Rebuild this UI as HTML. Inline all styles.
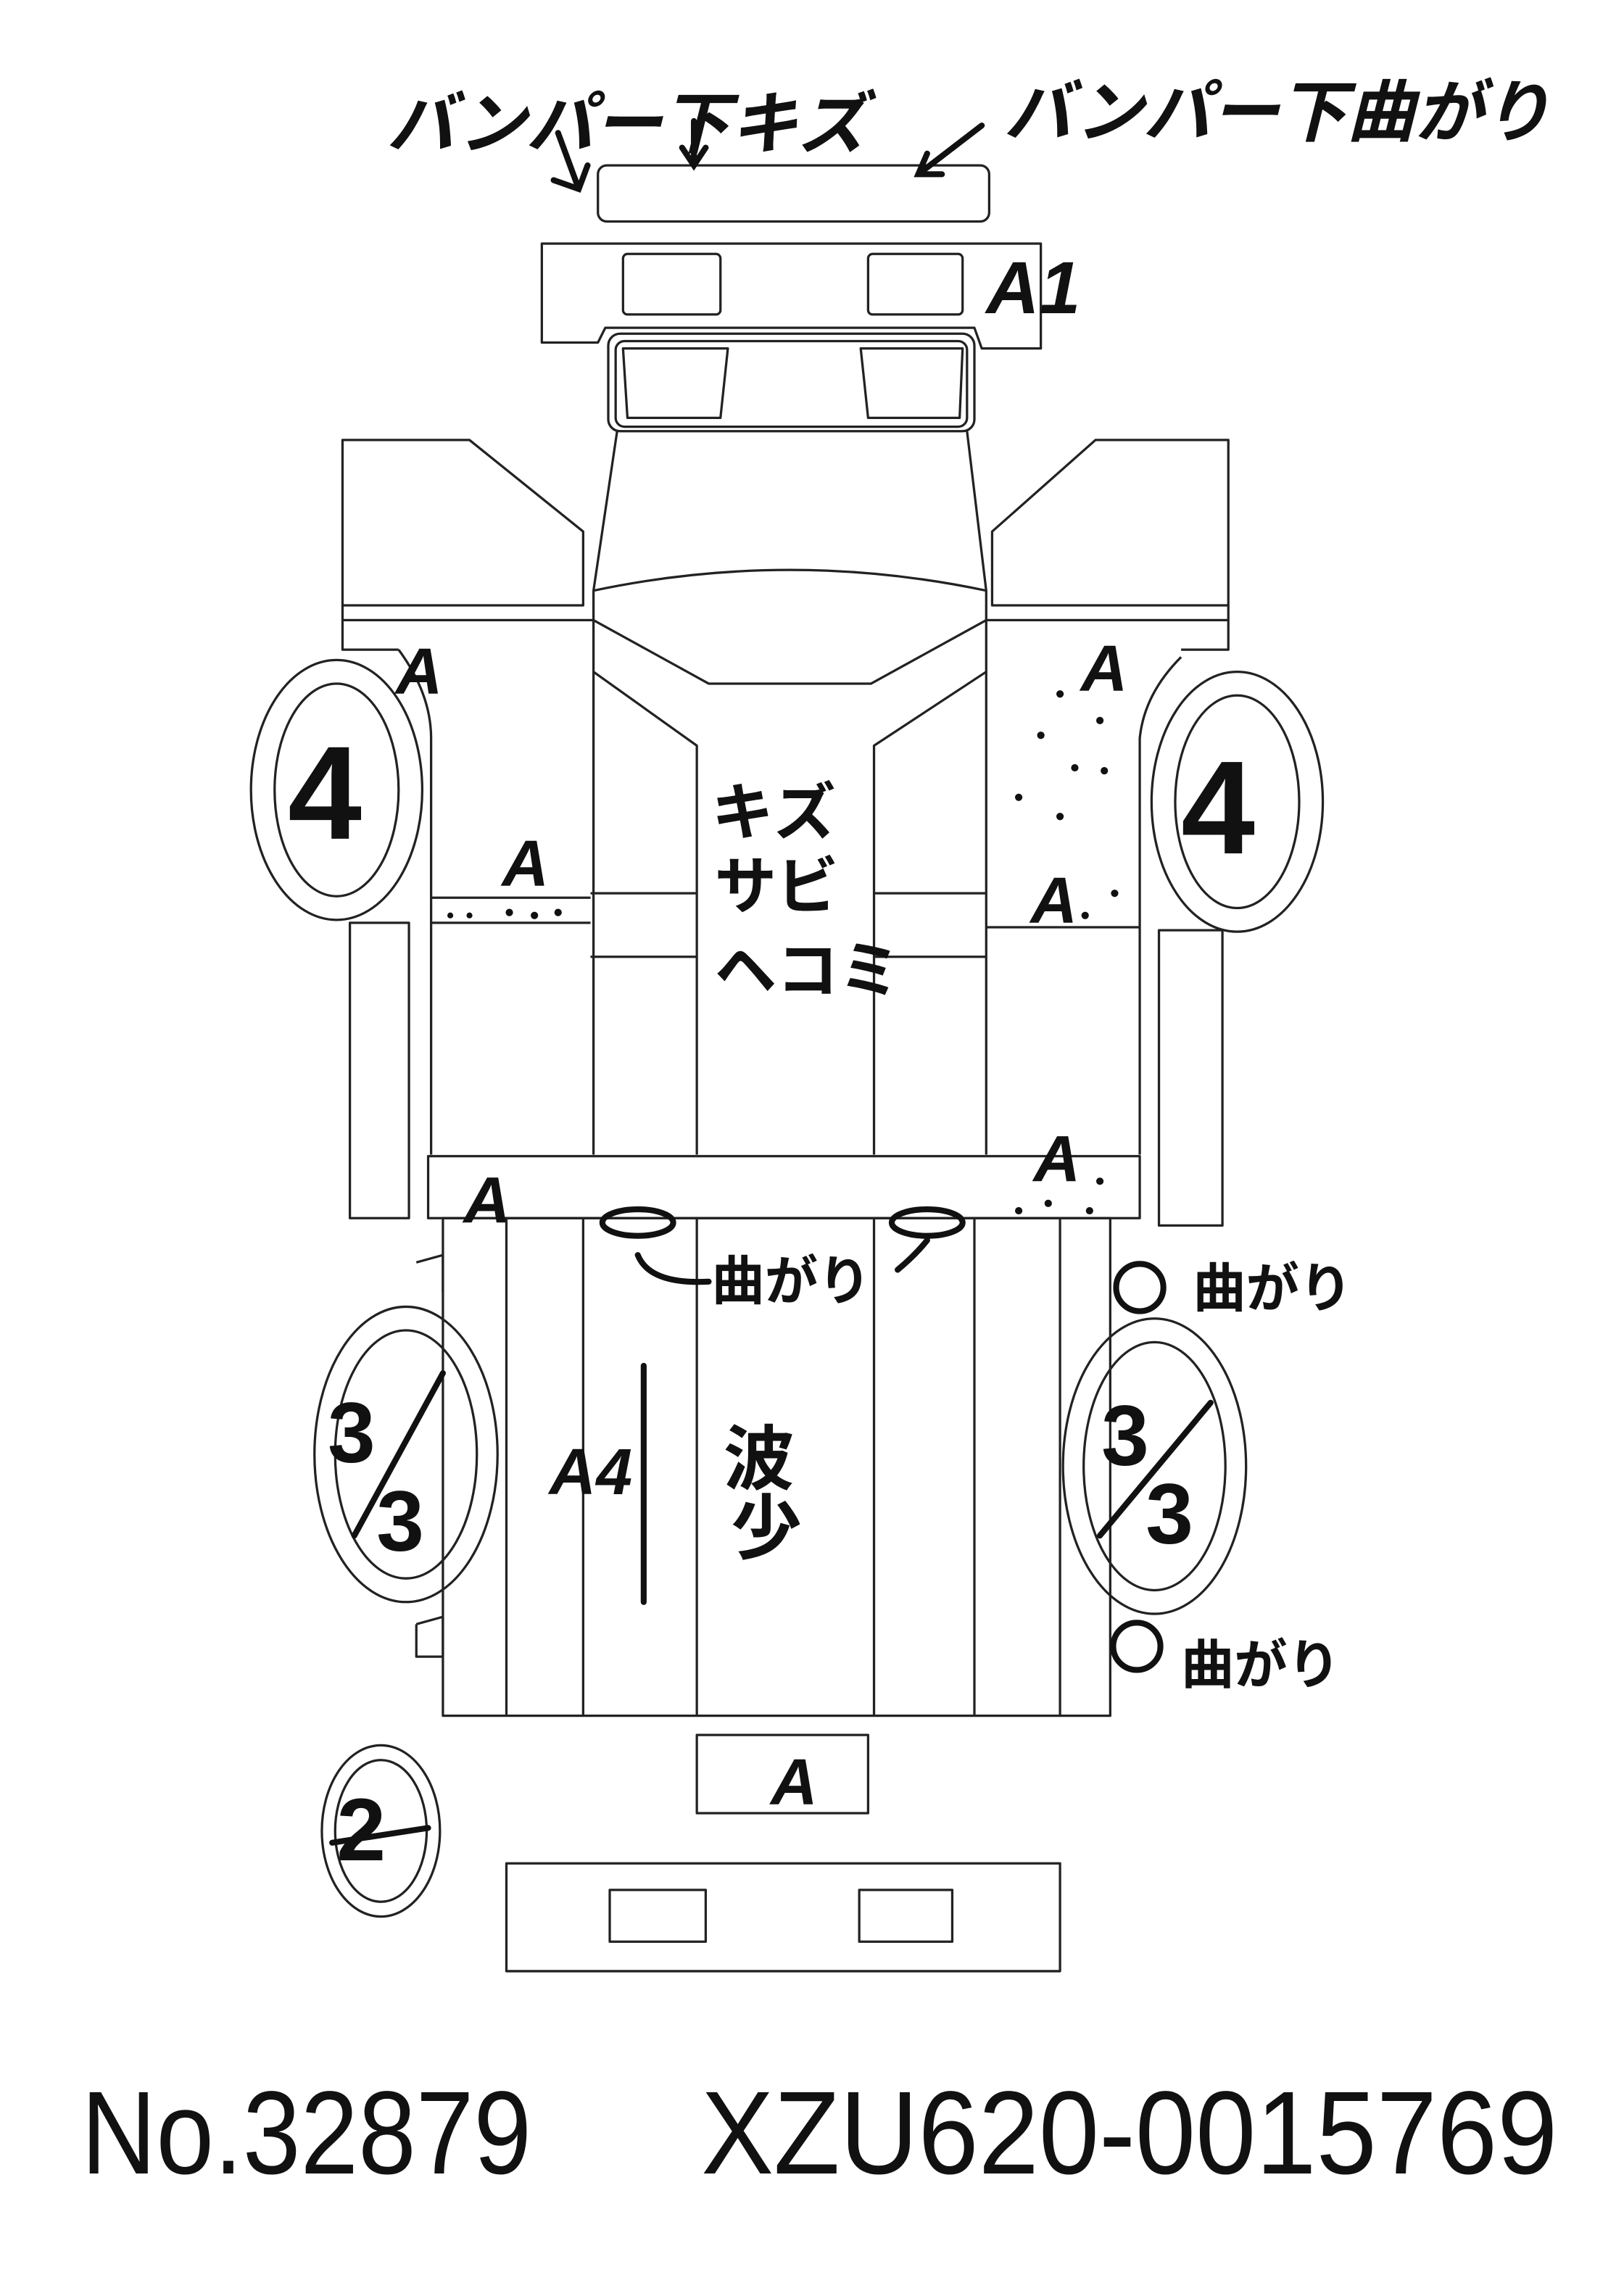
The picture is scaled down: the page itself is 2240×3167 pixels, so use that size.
<!DOCTYPE html>
<html><head><meta charset="utf-8"><style>
html,body{margin:0;padding:0;background:#fff;}
svg{display:block;}
.l{fill:none;stroke:#222;stroke-width:1.6;stroke-linejoin:round}
.h{fill:none;stroke:#111;stroke-width:4;stroke-linecap:round}
.t{font-family:"Liberation Sans","Noto Sans CJK JP",sans-serif;fill:#111}
.b{font-weight:bold}
</style></head><body>
<svg width="2240" height="3167" viewBox="0 0 1100 1555" preserveAspectRatio="none" xmlns="http://www.w3.org/2000/svg">
<rect width="1100" height="1555" fill="#fff"/>
<rect class="l" x="405" y="112" width="265" height="38" rx="6"/>
<path class="l" d="M367 165 H705 V236 H665 L660 222 H410 L405 232 H367 Z"/>
<rect class="l" x="422" y="172" width="66" height="41" rx="3"/>
<rect class="l" x="588" y="172" width="64" height="41" rx="3"/>
<rect class="l" x="412" y="226" width="248" height="66" rx="8"/>
<rect class="l" x="417" y="231" width="238" height="58" rx="6"/>
<path class="l" d="M422 236 H493 L488 283 H425 Z"/>
<path class="l" d="M583 236 H652 L650 283 H588 Z"/>
<path class="l" d="M418 292 L402 400 L402 782 M655 292 L668 400 L668 782"/>
<path class="l" d="M402 400 Q535 372 668 400"/>
<path class="l" d="M402 420 L480 463 H590 L668 420"/>
<path class="l" d="M402 455 L472 505 V782 M668 455 L592 505 V782"/>
<path class="l" d="M400 605 H472 M592 605 H668 M400 648 H472 M592 648 H668"/>
<path class="l" d="M232 298 H318 L395 360 V410 H232 Z"/>
<path class="l" d="M232 410 V440 H270 M402 420 H232"/>
<path class="l" d="M270 440 Q292 470 292 500 V782 M292 608 H400 M292 625 H400"/>
<path class="l" d="M832 298 H742 L672 360 V410 H832 Z"/>
<path class="l" d="M832 410 V440 H800 M668 420 H832"/>
<path class="l" d="M800 445 Q775 470 772 500 V782 M668 628 H772"/>
<rect class="l" x="290" y="783" width="482" height="42"/>
<rect class="l" x="237" y="625" width="40" height="200"/>
<rect class="l" x="785" y="630" width="43" height="200"/>
<rect class="l" x="300" y="825" width="452" height="337"/>
<path class="l" d="M343 825 V1162 M395 825 V1162 M472 825 V1162 M592 825 V1162 M660 825 V1162 M718 825 V1162"/>
<path class="l" d="M282 855 L300 850 V875 M282 1100 L300 1095 V1122 M282 1100 V1122 H300"/>
<ellipse class="l" cx="228" cy="535" rx="58" ry="88"/><ellipse class="l" cx="228" cy="535" rx="42" ry="72"/>
<ellipse class="l" cx="838" cy="543" rx="58" ry="88"/><ellipse class="l" cx="838" cy="543" rx="42" ry="72"/>
<ellipse class="l" cx="275" cy="985" rx="62" ry="100"/><ellipse class="l" cx="275" cy="985" rx="48" ry="84"/>
<ellipse class="l" cx="782" cy="993" rx="62" ry="100"/><ellipse class="l" cx="782" cy="993" rx="48" ry="84"/>
<ellipse class="l" cx="258" cy="1240" rx="40" ry="58"/><ellipse class="l" cx="258" cy="1240" rx="31" ry="48"/>
<rect class="l" x="472" y="1175" width="116" height="53"/>
<rect class="l" x="343" y="1262" width="375" height="73"/>
<rect class="l" x="413" y="1280" width="65" height="35"/>
<rect class="l" x="582" y="1280" width="63" height="35"/>
<g class="t b" font-size="50" font-style="italic">
<text x="262" y="100" font-size="46">バンパー下キズ</text>
<text x="680" y="92" font-size="46">バンパー下曲がり</text>
<text x="668" y="212">A1</text>
<text x="268" y="470" font-size="44">A</text>
<text x="732" y="468" font-size="44">A</text>
<text x="340" y="600" font-size="44">A</text>
<text x="698" y="625" font-size="44">A</text>
<text x="700" y="800" font-size="44">A</text>
<text x="314" y="828" font-size="44">A</text>
<text x="482" y="565" font-size="42" font-style="normal">キズ</text>
<text x="484" y="615" font-size="42" font-style="normal">サビ</text>
<text x="484" y="672" font-size="42" font-style="normal">ヘコミ</text>
<text x="482" y="880" font-size="36" font-style="normal">曲がり</text>
<text x="808" y="885" font-size="36" font-style="normal">曲がり</text>
<text x="800" y="1140" font-size="36" font-style="normal">曲がり</text>
<text x="490" y="1005" font-size="48" font-style="normal">波</text>
<text x="495" y="1052" font-size="48" font-style="normal">少</text>
<text x="372" y="1012" font-size="44">A4</text>
<text x="522" y="1222" font-size="44">A</text>
<text x="195" y="568" font-size="90" font-style="normal">4</text>
<text x="800" y="578" font-size="90" font-style="normal">4</text>
<text x="222" y="990" font-size="58" font-style="normal">3</text>
<text x="255" y="1050" font-size="58" font-style="normal">3</text>
<text x="746" y="992" font-size="58" font-style="normal">3</text>
<text x="776" y="1045" font-size="58" font-style="normal">3</text>
<text x="228" y="1260" font-size="60" font-style="normal">2</text>
</g>
<path class="h" d="M240 1040 L300 930 M745 1040 L820 950 M436 925 V1085 M225 1248 L290 1238"/>
<path class="h" stroke-width="3" d="M378 90 L392 128 M375 122 L392 128 L398 112 M470 82 V112 M462 100 L470 112 L478 100 M665 85 L622 118 M628 104 L622 118 L638 118"/>
<ellipse class="h" stroke-width="3" cx="432" cy="828" rx="24" ry="9"/><ellipse class="h" stroke-width="3" cx="628" cy="828" rx="24" ry="9"/>
<path class="h" stroke-width="3" d="M432 850 Q440 870 480 868 M608 860 Q620 850 628 840"/>
<circle class="h" stroke-width="3" cx="772" cy="872" r="16"/><circle class="h" stroke-width="3" cx="770" cy="1115" r="16"/>
<g fill="#111">
<circle cx="305" cy="620" r="2"/><circle cx="318" cy="620" r="2"/><circle cx="345" cy="618" r="2.5"/><circle cx="362" cy="620" r="2.5"/><circle cx="378" cy="618" r="2.5"/>
<circle cx="718" cy="470" r="2.5"/><circle cx="745" cy="488" r="2.5"/><circle cx="705" cy="498" r="2.5"/><circle cx="728" cy="520" r="2.5"/><circle cx="748" cy="522" r="2.5"/><circle cx="690" cy="540" r="2.5"/><circle cx="718" cy="553" r="2.5"/><circle cx="755" cy="605" r="2.5"/><circle cx="735" cy="620" r="2.5"/>
<circle cx="690" cy="820" r="2.5"/><circle cx="710" cy="815" r="2.5"/><circle cx="738" cy="820" r="2.5"/><circle cx="745" cy="800" r="2.5"/>
</g>
<text class="t" x="55" y="1472" font-size="80" textLength="305" lengthAdjust="spacingAndGlyphs">No.32879</text>
<text class="t" x="475" y="1472" font-size="80" textLength="580" lengthAdjust="spacingAndGlyphs">XZU620-0015769</text>
</svg>
</body></html>
